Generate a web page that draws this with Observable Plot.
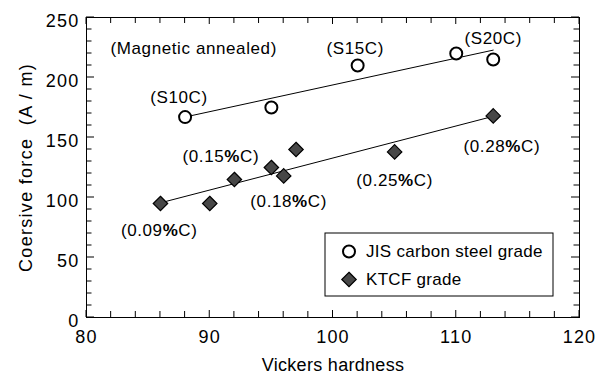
<!DOCTYPE html>
<html><head><meta charset="utf-8">
<script src="https://cdn.jsdelivr.net/npm/d3@7"></script>
<script src="https://cdn.jsdelivr.net/npm/@observablehq/plot@0.6"></script>
<style>
body{margin:0;background:#fff}
#chart{position:relative;width:608px;height:374px}
#chart svg{font-family:"Liberation Sans",Arial,sans-serif;background:#fff}
</style></head><body><div id="chart"></div>
<script>
// Data
const jisHardness = [88, 95, 102, 110, 113];
const jisForce = [167, 175, 210, 220, 215];
const ktcfHardness = [86, 90, 92, 95, 96, 97, 105, 113];
const ktcfForce = [95, 95, 115, 125, 118, 140, 138, 168];
const seriesNames = ["JIS carbon steel grade", "KTCF grade"];
const annotationText = ["(Magnetic annealed)", "(S10C)", "(S15C)", "(S20C)", "(0.09%C)", "(0.15%C)", "(0.18%C)", "(0.25%C)", "(0.28%C)"];
const annotationX = [88.7, 87.5, 101.8, 113, 85.9, 90.9, 96.4, 105, 113.7];
const annotationY = [224, 183, 224, 232.5, 72.5, 134.4, 96.7, 114.2, 142.5];
const xMajorTicks = [80, 90, 100, 110, 120];
const xMinorTicks = [82, 84, 86, 88, 92, 94, 96, 98, 102, 104, 106, 108, 112, 114, 116, 118];
const yMajorTicks = [0, 50, 100, 150, 200, 250];
const yMinorTicks = [10, 20, 30, 40, 60, 70, 80, 90, 110, 120, 130, 140, 160, 170, 180, 190, 210, 220, 230, 240];
const xLabel = "Vickers hardness";
const yLabel = "Coersive force  (A / m)";

const jis = jisHardness.map((h, i) => ({h, f: jisForce[i]}));
const ktcf = ktcfHardness.map((h, i) => ({h, f: ktcfForce[i]}));
const notes = annotationText.map((t, i) => ({t, x: annotationX[i], y: annotationY[i]}));

const FS = 17;
const plot = Plot.plot({
  width: 608, height: 374,
  marginLeft: 86, marginRight: 29, marginTop: 17, marginBottom: 57,
  style: {fontSize: FS + "px", fontFamily: '"Liberation Sans", Arial, sans-serif', background: "#fff", color: "#000"},
  x: {domain: [80, 120]},
  y: {domain: [0, 250]},
  marks: [
    Plot.frame({stroke: "#000"}),
    // tick labels and axis titles
    Plot.axisX(xMajorTicks, {anchor: "bottom", tickSize: 0, tickPadding: 13, fontSize: 18, label: xLabel, labelAnchor: "center", labelOffset: 53, labelArrow: "none", className: "ticklab"}),
    Plot.axisY(yMajorTicks, {anchor: "left", tickSize: 0, tickPadding: 7, dy: 4, fontSize: 18, label: yLabel, labelAnchor: "center", labelOffset: 67, labelArrow: "none", className: "ticklab"}),
    // regression lines
    Plot.linearRegressionY(jis, {x: "h", y: "f", stroke: "#000", strokeWidth: 1, ci: 0}),
    Plot.linearRegressionY(ktcf, {x: "h", y: "f", stroke: "#000", strokeWidth: 1, ci: 0}),
    // points
    Plot.dot(jis, {x: "h", y: "f", r: 6, fill: "#fff", stroke: "#000", strokeWidth: 2}),
    Plot.dot(ktcf, {x: "h", y: "f", symbol: "diamond2", r: 6.5, fill: "#474747", stroke: "#000", strokeWidth: 1.2}),
    // annotations
    Plot.text(notes, {x: "x", y: "y", text: "t", fill: "#000", fontSize: FS, className: "notes"})
  ]
});

const svg = d3.select(plot);
const sx = plot.scale("x"), sy = plot.scale("y");
const [x0, x1] = sx.range, [y0, y1] = sy.range; // y0 bottom, y1 top

// inward ticks on all four sides, positioned through Plot's scales
const tg = svg.append("g").attr("stroke", "#000").attr("stroke-width", 1).attr("fill", "none");
const addX = (vals, len) => vals.forEach(v => {
  const px = sx.apply(v);
  tg.append("line").attr("x1", px).attr("x2", px).attr("y1", y0).attr("y2", y0 - len);
  tg.append("line").attr("x1", px).attr("x2", px).attr("y1", y1).attr("y2", y1 + len);
});
const addY = (vals, len) => vals.forEach(v => {
  const py = sy.apply(v);
  tg.append("line").attr("y1", py).attr("y2", py).attr("x1", x0).attr("x2", x0 + len);
  tg.append("line").attr("y1", py).attr("y2", py).attr("x1", x1).attr("x2", x1 - len);
});
addX(xMajorTicks, 7); addX(xMinorTicks, 6);
addY(yMajorTicks, 8); addY(yMinorTicks, 5.5);

// text tweaks
svg.selectAll(".notes text").attr("letter-spacing", "0.6px");
svg.selectAll("text").each(function() {
  const el = d3.select(this);
  const t = this.textContent;
  if (/^\d+$/.test(t)) el.attr("letter-spacing", "1.2px");
  else if (t.includes("Coersive")) el.attr("font-size", 18).attr("letter-spacing", "1.3px").attr("xml:space", "preserve").style("white-space", "pre");
  else if (t.includes("Vickers")) el.attr("letter-spacing", "0.3px");
});
// bold % sign
svg.selectAll(".notes text").each(function() {
  const txt = this.textContent;
  if (!txt.includes("%")) return;
  const el = d3.select(this);
  el.text(null);
  txt.split(/(%)/).forEach(part => {
    if (!part) return;
    const ts = el.append("tspan").text(part);
    if (part === "%") ts.attr("font-weight", "bold");
  });
});

// legend
const lg = svg.append("g").attr("font-size", FS).attr("text-anchor", "start");
const bx = 325, by = 233, bw = 228, bh = 63;
lg.append("rect").attr("x", bx).attr("y", by).attr("width", bw).attr("height", bh)
  .attr("fill", "#fff").attr("stroke", "#000").attr("stroke-width", 1);
const items = [
  {name: seriesNames[0], sym: d3.symbolCircle, fill: "#fff", sw: 2, size: Math.PI * 36},
  {name: seriesNames[1], sym: d3.symbolDiamond2, fill: "#474747", sw: 1.2, size: Math.PI * 6.5 * 6.5}
];
items.forEach((it, i) => {
  const cy = by + 18.5 + i * 28;
  lg.append("path").attr("d", d3.symbol(it.sym, it.size)())
    .attr("transform", `translate(${bx + 24},${cy})`)
    .attr("fill", it.fill).attr("stroke", "#000").attr("stroke-width", it.sw);
  lg.append("text").attr("x", bx + 41).attr("y", cy).attr("dy", "0.35em")
    .attr("fill", "#000").attr("letter-spacing", "0.3px").text(it.name);
});

document.getElementById("chart").append(plot);
</script>
</body></html>
